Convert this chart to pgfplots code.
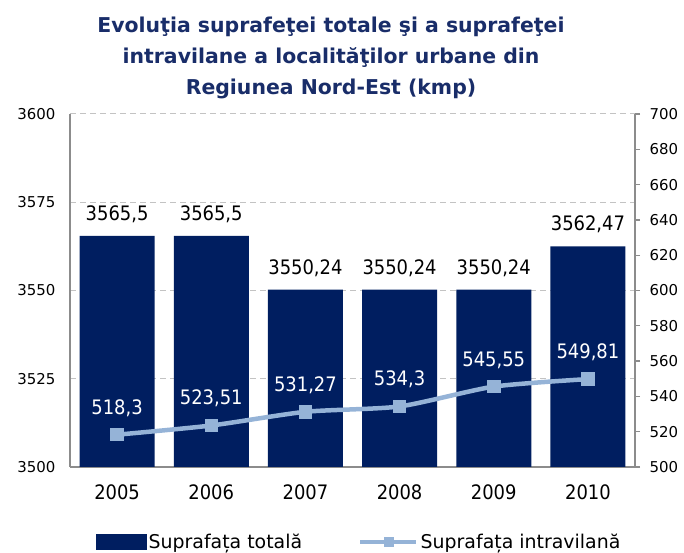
\documentclass[border=0pt]{standalone}
\usepackage{fontspec}
\setmainfont{DejaVu Sans Condensed}
\newfontfamily\widefont{DejaVu Sans}
\usepackage{pgfplots}
\usepackage{pgfplotstable}
\pgfplotsset{compat=1.18}
\definecolor{barcol}{RGB}{0,30,96}
\definecolor{linecol}{RGB}{149,179,215}
\definecolor{titlecol}{RGB}{25,45,105}
\definecolor{gridcol}{RGB}{195,195,195}
\definecolor{axcol}{RGB}{140,140,140}

\pgfplotstableread{
x y lab
0 3565.5 3565,5
1 3565.5 3565,5
2 3550.24 3550,24
3 3550.24 3550,24
4 3550.24 3550,24
5 3562.47 3562,47
}\totaltab

\pgfplotstableread{
x y lab
0 518.3 518,3
1 523.51 523,51
2 531.27 531,27
3 534.3 534,3
4 545.55 545,55
5 549.81 549,81
}\intratab

\begin{document}
\begin{tikzpicture}[x=1bp,y=1bp]
\useasboundingbox (0,0) rectangle (684,553);
\begin{axis}[
  at={(70bp,86bp)}, anchor=south west,
  scale only axis, width=565bp, height=353bp,
  xmin=-0.5, xmax=5.5, ymin=3500, ymax=3600,
  axis x line*=bottom, axis y line*=left,
  axis line style={axcol, line width=1.3bp, -},
  xtick={0,1,2,3,4,5}, xticklabels={2005,2006,2007,2008,2009,2010},
  ytick={3500,3525,3550,3575,3600},
  major tick length=0pt,
  ymajorgrids,
  grid style={gridcol, line width=1bp, dash pattern=on 6bp off 4bp},
  /pgf/number format/assume math mode=true,
  /pgf/number format/1000 sep={},
  yticklabel style={font=\widefont\fontsize{15}{18}\selectfont, xshift=-11bp},
  xticklabel style={font=\fontsize{20}{24}\selectfont, yshift=-14bp},
]
\addplot[ybar, bar width=75bp, fill=barcol, draw=none,
  nodes near coords, point meta=explicit symbolic,
  nodes near coords style={font=\fontsize{20}{24}\selectfont, text=black, anchor=south, inner sep=0pt, yshift=13bp}]
  table[x=x, y=y, meta=lab] {\totaltab};
\end{axis}
\begin{axis}[
  at={(70bp,86bp)}, anchor=south west,
  scale only axis, width=565bp, height=353bp,
  xmin=-0.5, xmax=5.5, ymin=500, ymax=700,
  axis y line*=right, axis x line=none,
  axis line style={axcol, line width=1.3bp, -},
  ytick={500,520,...,700},
  tick align=outside, major tick length=5bp,
  tick style={axcol, line width=1.3bp},
  /pgf/number format/assume math mode=true,
  /pgf/number format/1000 sep={},
  yticklabel style={font=\widefont\fontsize{15}{18}\selectfont, xshift=6bp},
  legend columns=2,
  legend style={at={(0.512,-0.2125)}, anchor=center, draw=none, fill=none,
    font=\widefont\fontsize{19}{22}\selectfont, inner sep=0pt,
    /tikz/every even column/.append style={column sep=54bp}},
]
\addlegendimage{legend image code/.code={\fill[barcol] (0bp,-7bp) rectangle (50bp,8bp);}}
\addlegendentry{Suprafața totală}
\addlegendimage{legend image code/.code={\draw[linecol, line width=4.5bp] (0bp,0bp) -- (56bp,0bp); \fill[linecol] (23.5bp,-4.5bp) rectangle (32.5bp,4.5bp);}}
\addlegendentry{Suprafața intravilană}
\addplot[forget plot, linecol, line width=4.5bp, smooth, tension=0.4,
  mark=square*, mark size=4.5bp, mark options={fill=linecol, draw=none},
  nodes near coords, point meta=explicit symbolic,
  nodes near coords style={font=\fontsize{20}{24}\selectfont, text=white, anchor=south, inner sep=0pt, yshift=16bp}]
  table[x=x, y=y, meta=lab] {\intratab};
\end{axis}
\node[anchor=north, align=center, inner sep=0pt, text=titlecol,
  font=\widefont\bfseries\fontsize{20.5}{31}\selectfont] at (331,536)
  {Evoluţia suprafeţei totale şi a suprafeţei\\intravilane a localităţilor urbane din\\Regiunea Nord-Est (kmp)};
\end{tikzpicture}
\end{document}
